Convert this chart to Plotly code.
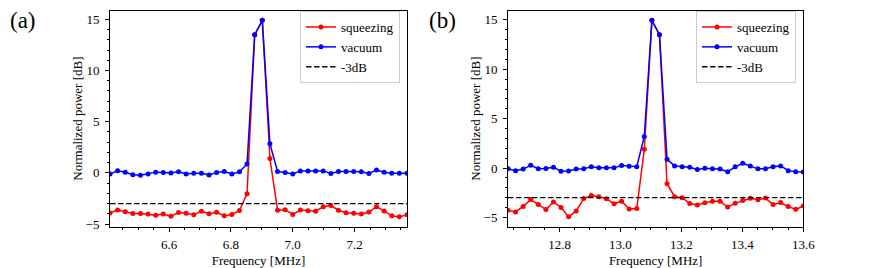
import plotly.graph_objects as go

# ---------------- data ----------------
freq_a = [6.4090, 6.4336, 6.4583, 6.4829, 6.5075, 6.5322, 6.5568, 6.5814, 6.6060, 6.6307,
          6.6553, 6.6799, 6.7046, 6.7292, 6.7538, 6.7785, 6.8031, 6.8277, 6.8523, 6.8770,
          6.9016, 6.9262, 6.9509, 6.9755, 7.0001, 7.0248, 7.0494, 7.0740, 7.0986, 7.1233,
          7.1479, 7.1725, 7.1972, 7.2218, 7.2464, 7.2711, 7.2957, 7.3203, 7.3449, 7.3696]
squeezing_a = [-3.93, -3.62, -3.81, -3.96, -3.96, -4.02, -4.14, -4.02, -4.24, -3.87,
               -3.94, -4.10, -3.75, -4.00, -3.85, -4.18, -4.06, -3.68, -2.03, 13.5,
               14.9, 1.4, -3.65, -3.60, -4.06, -3.64, -3.70, -3.75, -3.30, -3.20,
               -3.65, -3.90, -3.95, -4.02, -3.83, -3.30, -3.72, -4.20, -4.30, -4.10]
vacuum_a = [-0.12, 0.20, 0.05, -0.18, -0.24, -0.10, 0.07, 0.03, -0.02, 0.12,
            -0.10, -0.04, -0.04, -0.20, 0.03, 0.13, -0.10, 0.10, 0.86, 13.5,
            14.9, 2.85, 0.13, 0.03, -0.10, 0.19, 0.19, 0.19, 0.19, -0.06,
            0.13, 0.13, 0.13, 0.11, -0.06, 0.27, 0.05, -0.04, -0.04, -0.04]

freq_b = [12.6310, 12.6559, 12.6807, 12.7056, 12.7304, 12.7553, 12.7801, 12.8050, 12.8298, 12.8547,
          12.8795, 12.9044, 12.9292, 12.9541, 12.9789, 13.0038, 13.0286, 13.0535, 13.0783, 13.1032,
          13.1280, 13.1529, 13.1777, 13.2026, 13.2274, 13.2523, 13.2771, 13.3020, 13.3268, 13.3517,
          13.3765, 13.4014, 13.4262, 13.4511, 13.4759, 13.5008, 13.5256, 13.5505, 13.5753, 13.6000]
squeezing_b = [-4.28, -4.44, -3.88, -3.19, -3.68, -4.20, -3.43, -3.98, -4.94, -4.34,
               -3.08, -2.77, -2.90, -3.10, -3.62, -3.35, -4.14, -4.10, 1.9, 14.95,
               13.5, -1.58, -2.90, -3.00, -3.59, -3.74, -3.50, -3.35, -3.37, -3.94,
               -3.57, -3.29, -3.06, -3.20, -3.04, -3.70, -3.49, -3.89, -4.18, -3.84]
vacuum_b = [-0.08, -0.26, -0.10, 0.28, -0.06, -0.04, 0.09, -0.32, -0.30, -0.10,
            -0.08, 0.12, 0.02, 0.02, 0.02, 0.26, 0.18, 0.14, 3.2, 14.95,
            13.5, 0.90, 0.20, 0.12, 0.08, -0.14, -0.02, -0.06, -0.10, -0.38,
            0.12, 0.48, 0.20, -0.08, -0.06, 0.14, 0.22, -0.26, -0.38, -0.40]

threshold_db = -3
series_names = ["squeezing", "vacuum", "-3dB"]
panel_labels = ["(a)", "(b)"]
x_title = "Frequency [MHz]"
y_title = "Normalized power [dB]"

# ---------------- style ----------------
FONT = "Liberation Serif"
RED = "#ff0000"
BLUE = "#0000ff"
W, H = 872, 268


def X(px):
    return px / W


def Y(py):
    return 1 - py / H


fig = go.Figure()


def auto_range(*series):
    lo = min(min(s) for s in series)
    hi = max(max(s) for s in series)
    pad = 0.05 * (hi - lo)
    return [lo - pad, hi + pad]


panels = [
    (freq_a, squeezing_a, vacuum_a, "x", "y", "legend"),
    (freq_b, squeezing_b, vacuum_b, "x2", "y2", "legend2"),
]

for fx, sq, vac, xa, ya, lg in panels:
    fig.add_trace(go.Scatter(x=fx, y=sq, mode="lines+markers", name=series_names[0],
                             line=dict(color=RED, width=1.5),
                             marker=dict(color=RED, size=5, symbol="circle"),
                             xaxis=xa, yaxis=ya, legend=lg))
    fig.add_trace(go.Scatter(x=fx, y=vac, mode="lines+markers", name=series_names[1],
                             line=dict(color=BLUE, width=1.5),
                             marker=dict(color=BLUE, size=5, symbol="circle"),
                             xaxis=xa, yaxis=ya, legend=lg))
    fig.add_trace(go.Scatter(x=[fx[0], fx[-1]], y=[threshold_db, threshold_db], mode="lines",
                             name=series_names[2],
                             line=dict(color="black", width=1.3, dash="5.5px,2.5px"),
                             xaxis=xa, yaxis=ya, legend=lg))

y_dom = [Y(226.7), Y(10.5)]
x_doms = [[X(110), X(407)], [X(508), X(803.3)]]

common_x = dict(showgrid=False, zeroline=False, showline=True, mirror=True, automargin=False,
                linecolor="black", linewidth=1, ticks="outside", ticklen=4, tickwidth=1,
                tickcolor="black", dtick=0.2, tick0=0, tickformat=".1f",
                minor=dict(ticks="outside", ticklen=2, tickcolor="black", dtick=0.05, showgrid=False),
                tickfont=dict(family=FONT, size=13, color="black"),
                title=dict(text=x_title, font=dict(family=FONT, size=13, color="black"), standoff=4),
                ticklabelstandoff=2)
common_y = dict(showgrid=False, zeroline=False, showline=True, mirror=True, automargin=False,
                linecolor="black", linewidth=1, ticks="outside", ticklen=4, tickwidth=1,
                tickcolor="black", dtick=5, tick0=0,
                minor=dict(ticks="outside", ticklen=2, tickcolor="black", dtick=1, showgrid=False),
                tickfont=dict(family=FONT, size=13, color="black"),
                title=dict(text=y_title, font=dict(family=FONT, size=13, color="black"), standoff=0),
                ticklabelstandoff=3)

legend_style = dict(xanchor="right", yanchor="top", bgcolor="white",
                    bordercolor="#cccccc", borderwidth=1,
                    font=dict(family=FONT, size=13, color="black"), itemwidth=30)

fig.update_layout(
    width=W, height=H,
    margin=dict(l=0, r=0, t=0, b=0, autoexpand=False),
    paper_bgcolor="white", plot_bgcolor="white",
    font=dict(family=FONT, size=13, color="black"),
    xaxis=dict(common_x, domain=x_doms[0], range=[freq_a[0], freq_a[-1]], anchor="y"),
    yaxis=dict(common_y, domain=y_dom, range=auto_range(squeezing_a, vacuum_a), anchor="x"),
    xaxis2=dict(common_x, domain=x_doms[1], range=[freq_b[0], freq_b[-1]], anchor="y2"),
    yaxis2=dict(common_y, domain=y_dom, range=auto_range(squeezing_b, vacuum_b), anchor="x2"),
    legend=dict(legend_style, x=X(400), y=Y(11)),
    legend2=dict(legend_style, x=X(796), y=Y(11)),
    annotations=[
        dict(text=panel_labels[0], x=X(23), y=Y(20), xref="paper", yref="paper",
             showarrow=False, font=dict(family=FONT, size=23, color="black"),
             xanchor="center", yanchor="middle"),
        dict(text=panel_labels[1], x=X(442), y=Y(20), xref="paper", yref="paper",
             showarrow=False, font=dict(family=FONT, size=23, color="black"),
             xanchor="center", yanchor="middle"),
    ],
)

fig.write_html("out.html",
               config={"displayModeBar": False},
               post_script="document.body.style.margin='0';document.body.style.overflow='hidden';")
